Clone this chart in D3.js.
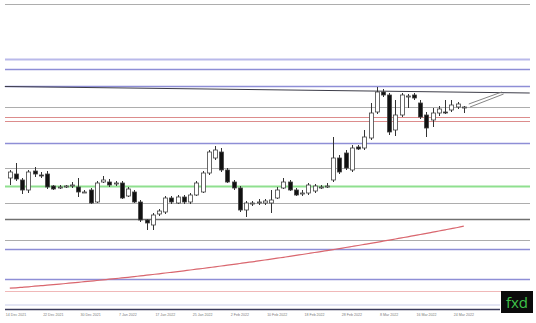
<!DOCTYPE html>
<html>
<head>
<meta charset="utf-8">
<script src="https://cdn.jsdelivr.net/npm/d3@7"></script>
<style>
html, body { margin: 0; padding: 0; background: #fff; overflow: hidden; }
</style>
</head>
<body>
<svg id="chart"></svg>
<script>
// daily candles, 13 Dec 2021 .. 24 Mar 2022 (weekdays)
var firstDay = new Date(2021, 11, 13);
var lastDay = new Date(2022, 2, 25);

var openP = [1.3422,1.3426,1.3420,1.3410,1.3429,1.3425,1.3426,1.3414,1.3413,1.3414,
  1.3415,1.3413,1.3408,1.3410,1.3398,1.3418,1.3418,1.3416,1.3417,1.3404,
  1.3408,1.3398,1.3380,1.3375,1.3386,1.3388,1.3402,1.3397,1.3403,1.3398,
  1.3405,1.3408,1.3427,1.3442,1.3448,1.3430,1.3418,1.3412,1.3390,1.3397,
  1.3398,1.3397,1.3397,1.3402,1.3412,1.3418,1.3410,1.3407,1.3407,1.3409,
  1.3413,1.3414,1.3420,1.3442,1.3447,1.3430,1.3453,1.3452,1.3462,1.3488,
  1.3508,1.3505,1.3470,1.3485,1.3504,1.3505,1.3497,1.3485,1.3480,1.3487,
  1.3488,1.3490,1.3493,1.3493];

var closeP = [1.3428,1.3421,1.3410,1.3428,1.3426,1.3424,1.3413,1.3411,1.3413,1.3414,
  1.3415,1.3408,1.3408,1.3397,1.3417,1.3420,1.3415,1.3417,1.3402,1.3411,
  1.3398,1.3380,1.3377,1.3385,1.3389,1.3402,1.3398,1.3403,1.3398,1.3405,
  1.3417,1.3427,1.3448,1.3450,1.3430,1.3418,1.3412,1.3390,1.3397,1.3397,
  1.3398,1.3399,1.3400,1.3410,1.3418,1.3410,1.3405,1.3407,1.3415,1.3414,
  1.3413,1.3414,1.3442,1.3428,1.3432,1.3452,1.3451,1.3463,1.3487,1.3508,
  1.3505,1.3468,1.3485,1.3505,1.3504,1.3502,1.3483,1.3472,1.3487,1.3491,
  1.3487,1.3495,1.3496,1.3493];

var highP = [1.3430,1.3437,1.3422,1.3430,1.3433,1.3428,1.3429,1.3415,1.3415,1.3415,
  1.3418,1.3422,1.3410,1.3412,1.3419,1.3424,1.3421,1.3419,1.3419,1.3413,
  1.3410,1.3400,1.3381,1.3387,1.3391,1.3404,1.3404,1.3405,1.3405,1.3407,
  1.3419,1.3429,1.3450,1.3454,1.3452,1.3432,1.3420,1.3414,1.3399,1.3399,
  1.3401,1.3401,1.3410,1.3413,1.3422,1.3420,1.3412,1.3410,1.3417,1.3416,
  1.3415,1.3417,1.3463,1.3445,1.3450,1.3455,1.3455,1.3470,1.3497,1.3513,
  1.3511,1.3507,1.3500,1.3507,1.3506,1.3507,1.3500,1.3488,1.3492,1.3494,
  1.3500,1.3500,1.3498,1.3494];

var lowP = [1.3415,1.3419,1.3406,1.3407,1.3423,1.3422,1.3411,1.3410,1.3411,1.3412,
  1.3412,1.3403,1.3407,1.3396,1.3397,1.3417,1.3413,1.3414,1.3401,1.3403,
  1.3397,1.3378,1.3370,1.3370,1.3384,1.3386,1.3396,1.3396,1.3396,1.3396,
  1.3404,1.3407,1.3425,1.3440,1.3428,1.3417,1.3410,1.3388,1.3383,1.3394,
  1.3395,1.3395,1.3387,1.3401,1.3411,1.3409,1.3404,1.3404,1.3405,1.3407,
  1.3411,1.3412,1.3418,1.3426,1.3430,1.3428,1.3450,1.3450,1.3460,1.3486,
  1.3503,1.3465,1.3464,1.3483,1.3492,1.3500,1.3481,1.3463,1.3473,1.3484,
  1.3486,1.3488,1.3491,1.3487];

// slow moving average (red curve)
var maP = [1.33118,1.33122,1.33127,1.33132,1.33138,1.33143,1.33148,1.33154,1.33159,1.33165,
  1.33171,1.33177,1.33183,1.33189,1.33195,1.33201,1.33208,1.33214,1.33221,1.33227,
  1.33234,1.33241,1.33248,1.33255,1.33262,1.33270,1.33277,1.33284,1.33292,1.33300,
  1.33308,1.33315,1.33323,1.33332,1.33340,1.33348,1.33356,1.33365,1.33374,1.33382,
  1.33391,1.33400,1.33409,1.33418,1.33427,1.33436,1.33446,1.33455,1.33465,1.33475,
  1.33484,1.33494,1.33504,1.33514,1.33525,1.33535,1.33545,1.33556,1.33567,1.33577,
  1.33588,1.33599,1.33610,1.33621,1.33632,1.33644,1.33655,1.33666,1.33678,1.33690,
  1.33702,1.33714,1.33725,1.33738];

var tickLabels = ['14 Dec 2021','22 Dec 2021','30 Dec 2021','7 Jan 2022','17 Jan 2022',
  '25 Jan 2022','2 Feb 2022','10 Feb 2022','18 Feb 2022','28 Feb 2022',
  '8 Mar 2022','16 Mar 2022','24 Mar 2022'];

// horizontal support / resistance levels
var levelPrices = [1.3596, 1.3541, 1.3531, 1.3514, 1.3493, 1.3483, 1.3479, 1.3457,
  1.3432, 1.3414, 1.3397, 1.3381, 1.3360, 1.3351, 1.3321, 1.3309];
var levelKinds = ['grey', 'lilac', 'purple', 'purple', 'grey', 'red', 'red', 'purple',
  'grey', 'green', 'grey', 'dark', 'grey', 'purple', 'purple', 'pink'];

// falling trend line, in candle index / price
var trendIdx = [-0.8, 83.6];
var trendPrice = [1.35135, 1.3507];

// the double arrow drawn after the last candle
var arrowIdx = [[73.8, 79.1], [74.0, 79.4]];
var arrowPrice = [[1.3496, 1.3508], [1.3493, 1.3506]];

var width = 536;
var height = 323;

var svg = d3.select('#chart')
  .attr('width', width)
  .attr('height', height)
  .style('display', 'block');

var dates = d3.timeDay.range(firstDay, lastDay).filter(function (d) {
  return d.getDay() !== 0 && d.getDay() !== 6;
});
var fmt = d3.timeFormat('%-d %b %Y');

var candles = dates.map(function (d, i) {
  return { date: d, i: i, o: openP[i], h: highP[i], l: lowP[i], c: closeP[i], ma: maP[i] };
});

var x = d3.scaleLinear().domain([0, candles.length - 1]).range([9.8, 463.8]);
var y = d3.scaleLinear().domain([1.3600, 1.3277]).range([0, 323]);

var levelStyle = {
  grey:   { stroke: '#adadad', w: 1 },
  lilac:  { stroke: '#b9b9ea', w: 2 },
  purple: { stroke: '#8e8ed6', w: 1.5 },
  red:    { stroke: '#dc8c8c', w: 1 },
  green:  { stroke: '#8fe08f', w: 2 },
  dark:   { stroke: '#707070', w: 1.5 },
  pink:   { stroke: '#f0b8b8', w: 1 }
};

// levels
svg.append('g').selectAll('line')
  .data(levelPrices)
  .enter()
  .append('line')
  .attr('x1', 5)
  .attr('x2', 530)
  .attr('y1', function (d) { return Math.round(y(d)) + 0.5; })
  .attr('y2', function (d) { return Math.round(y(d)) + 0.5; })
  .attr('stroke', function (d, i) { return levelStyle[levelKinds[i]].stroke; })
  .attr('stroke-width', function (d, i) { return levelStyle[levelKinds[i]].w; });

// moving average
var maLine = d3.line()
  .x(function (d) { return x(d.i); })
  .y(function (d) { return y(d.ma); })
  .curve(d3.curveMonotoneX);

svg.append('path')
  .datum(candles)
  .attr('d', maLine)
  .attr('fill', 'none')
  .attr('stroke', '#d9666e')
  .attr('stroke-width', 1.2);

// trend line
svg.append('line')
  .attr('x1', x(trendIdx[0]))
  .attr('y1', y(trendPrice[0]))
  .attr('x2', x(trendIdx[1]))
  .attr('y2', y(trendPrice[1]))
  .attr('stroke', '#3c3c48')
  .attr('stroke-width', 1);

// candles
var candleG = svg.append('g');

candleG.selectAll('line')
  .data(candles)
  .enter()
  .append('line')
  .attr('x1', function (d) { return Math.round(x(d.i)) + 0.5; })
  .attr('x2', function (d) { return Math.round(x(d.i)) + 0.5; })
  .attr('y1', function (d) { return y(d.h); })
  .attr('y2', function (d) { return y(d.l); })
  .attr('stroke', '#333')
  .attr('stroke-width', 1);

candleG.selectAll('rect')
  .data(candles)
  .enter()
  .append('rect')
  .attr('x', function (d) { return Math.round(x(d.i)) - 1.5; })
  .attr('width', 4)
  .attr('y', function (d) { return y(Math.max(d.o, d.c)); })
  .attr('height', function (d) {
    return Math.max(1, Math.abs(y(d.o) - y(d.c)));
  })
  .attr('fill', function (d) { return d.c < d.o ? '#111' : '#fff'; })
  .attr('stroke', '#444')
  .attr('stroke-width', 0.8);

// arrows
svg.append('g').selectAll('line')
  .data(arrowIdx)
  .enter()
  .append('line')
  .attr('x1', function (d) { return x(d[0]); })
  .attr('x2', function (d) { return x(d[1]); })
  .attr('y1', function (d, i) { return y(arrowPrice[i][0]); })
  .attr('y2', function (d, i) { return y(arrowPrice[i][1]); })
  .attr('stroke', '#777')
  .attr('stroke-width', 0.9);

// bottom axis
svg.append('line')
  .attr('x1', 5).attr('x2', 500)
  .attr('y1', 305).attr('y2', 305)
  .attr('stroke', '#e4e6f4')
  .attr('stroke-width', 2);

svg.append('line')
  .attr('x1', 5).attr('x2', 500)
  .attr('y1', 309.5).attr('y2', 309.5)
  .attr('stroke', '#3c3c5c')
  .attr('stroke-width', 1.5);

svg.append('g').selectAll('text')
  .data(tickLabels)
  .enter()
  .append('text')
  .attr('x', function (d) {
    var idx = candles.findIndex(function (c) { return fmt(c.date) === d; });
    return x(idx);
  })
  .attr('y', 315.5)
  .attr('text-anchor', 'middle')
  .attr('font-family', 'Liberation Sans, Arial, sans-serif')
  .attr('font-size', 3.6)
  .attr('fill', '#7a7a7a')
  .text(function (d) { return d; });

// logo
svg.append('rect')
  .attr('x', 501).attr('y', 291)
  .attr('width', 32).attr('height', 22)
  .attr('fill', '#0b0b0b');

svg.append('text')
  .attr('x', 517).attr('y', 307.5)
  .attr('text-anchor', 'middle')
  .attr('font-family', 'Open Sans, sans-serif')
  .attr('font-size', 15)
  .attr('fill', '#3fc24a')
  .text('fxd');
</script>
</body>
</html>
